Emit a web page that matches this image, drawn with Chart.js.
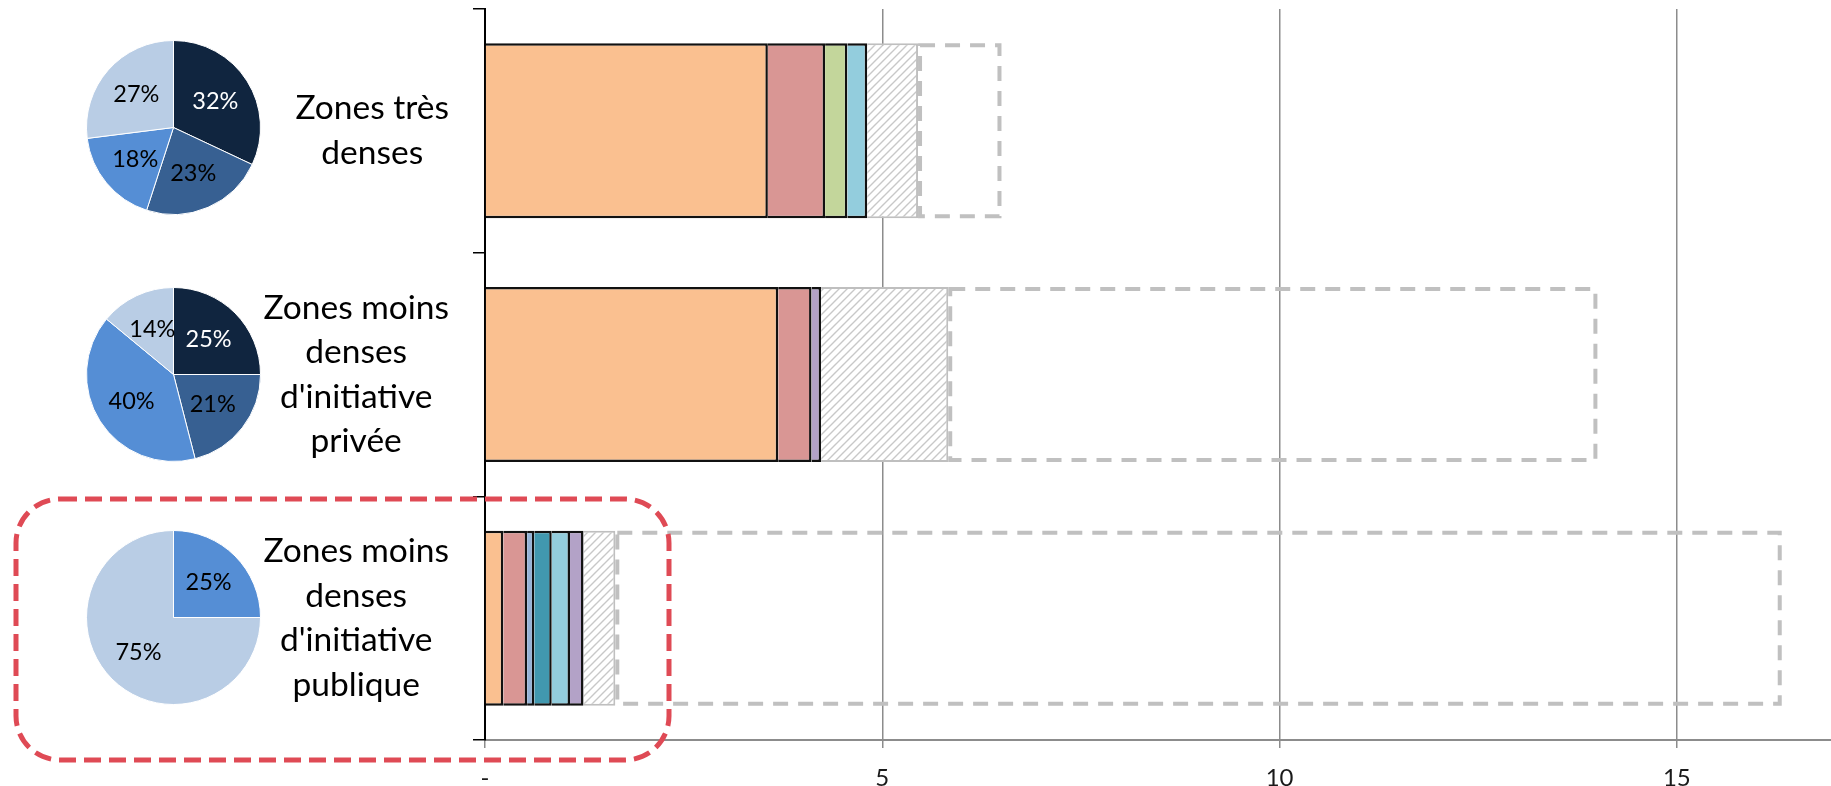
<!DOCTYPE html>
<html>
	<head>
		<title>Zones</title>
		<meta charset="utf-8"/>
		<script src="https://cdn.jsdelivr.net/npm/chart.js@4.4.1/dist/chart.umd.min.js"></script>
		<style>
			body { margin: 0; background: #ffffff; }
			#page { position: relative; width: 1831px; height: 786px; }
			#bar_box { position: absolute; left: 0; top: 0; width: 1831px; height: 786px; }
			.pie_box { position: absolute; width: 175px; height: 175px; left: 86px; }
		</style>
	</head>
	<body>
		<div id="page">
			<div id="bar_box"><canvas id="bar_chart"></canvas></div>
			<div class="pie_box" style="top: 40px;"><canvas id="pie_1"></canvas></div>
			<div class="pie_box" style="top: 287px;"><canvas id="pie_2"></canvas></div>
			<div class="pie_box" style="top: 530px;"><canvas id="pie_3"></canvas></div>
		</div>
		<script>
			// categories (one per bar / pie)
			const categories = [
				["Zones très", "denses"],
				["Zones moins", "denses", "d'initiative", "privée"],
				["Zones moins", "denses", "d'initiative", "publique"]
			];

			// stacked bar segments
			const orangeValues  = [3.56, 3.69, 0.23];
			const redValues     = [0.72, 0.42, 0.30];
			const greenValues   = [0.28, null, null];
			const steelValues   = [null, null, 0.09];
			const tealValues    = [null, null, 0.22];
			const cyanValues    = [0.25, null, 0.23];
			const purpleValues  = [null, 0.12, 0.17];
			const hatchedValues = [0.64, 1.60, 0.40];
			const totalValues   = [6.50, 14.00, 16.32];

			const xTicks = [0, 5, 10, 15];

			// pies (clockwise from top)
			const pieSlices = ["1", "2", "3", "4"];
			const pieTresDenses = [32, 23, 18, 27];
			const piePrivee     = [25, 21, 40, 14];
			const piePublique   = [0, 0, 25, 75];

			const remainderValues = totalValues.map((t, i) =>
				t - [orangeValues, redValues, greenValues, steelValues, tealValues, cyanValues, purpleValues, hatchedValues]
					.reduce((s, arr) => s + (arr[i] || 0), 0));

			const labelFont = "Lato";

			function makeHatch()
			{
				const c = document.createElement('canvas');
				c.width = 8;
				c.height = 8;
				const g = c.getContext('2d');
				g.fillStyle = '#ffffff';
				g.fillRect(0, 0, 8, 8);
				g.strokeStyle = '#c8c8c8';
				g.lineWidth = 1.4;
				g.beginPath();
				g.moveTo(0, 8); g.lineTo(8, 0);
				g.moveTo(-2, 2); g.lineTo(2, -2);
				g.moveTo(6, 10); g.lineTo(10, 6);
				g.stroke();
				return g.createPattern(c, 'repeat');
			}

			function segment(label, data, color)
			{
				return {
					label: label,
					data: data,
					backgroundColor: color,
					borderColor: '#111111',
					borderWidth: 2.5,
					borderSkipped: 'start'
				};
			}

			// dashed outline for the remainder + category texts + red frame
			const overlayPlugin = {
				id: 'overlay',
				afterDatasetsDraw(chart)
				{
					const ctx = chart.ctx;
					const meta = chart.getDatasetMeta(chart.data.datasets.length - 1);
					ctx.save();
					ctx.strokeStyle = '#c0c0c0';
					ctx.lineWidth = 4;
					ctx.setLineDash([15, 10]);
					meta.data.forEach(el =>
					{
						const p = el.getProps(['x', 'y', 'base', 'height'], true);
						ctx.strokeRect(p.base + 2, p.y - p.height / 2 + 2, p.x - p.base - 4, p.height - 4);
					});
					ctx.restore();
				},
				afterDraw(chart)
				{
					const ctx = chart.ctx;
					const yScale = chart.scales.y;
					ctx.save();
					ctx.fillStyle = '#000000';
					ctx.font = '33.5px ' + labelFont;
					ctx.textAlign = 'center';
					ctx.textBaseline = 'middle';
					categories.forEach((lines, i) =>
					{
						const cy = yScale.getPixelForValue(i);
						const w = Math.max(...lines.map(l => ctx.measureText(l).width));
						const cx = 449 - w / 2;
						const lh = 44.5;
						lines.forEach((l, j) =>
						{
							ctx.fillText(l, cx, cy + (j - (lines.length - 1) / 2) * lh);
						});
					});

					// highlight frame round the last group
					ctx.strokeStyle = '#df4a55';
					ctx.lineWidth = 5;
					ctx.setLineDash([17, 8]);
					ctx.beginPath();
					ctx.roundRect(16, 499, 653, 261, 44);
					ctx.stroke();
					ctx.restore();
				}
			};

			const barCtx = document.getElementById('bar_chart').getContext('2d');
			new Chart(barCtx,
			{
				type: 'bar',
				data:
				{
					labels: categories,
					datasets:
					[
						segment('orange', orangeValues, '#fac090'),
						segment('rouge', redValues, '#d99694'),
						segment('vert', greenValues, '#c3d69b'),
						segment('bleu clair', steelValues, '#95b3d7'),
						segment('bleu canard', tealValues, '#4198af'),
						segment('cyan', cyanValues, '#93cddd'),
						segment('violet', purpleValues, '#b3a2c7'),
						{
							label: 'hachuré',
							data: hatchedValues,
							backgroundColor: makeHatch(),
							borderColor: '#bfbfbf',
							borderWidth: 2,
							borderSkipped: 'start'
						},
						{
							label: 'reste',
							data: remainderValues,
							backgroundColor: 'rgba(0,0,0,0)',
							borderWidth: 0
						}
					]
				},
				options:
				{
					indexAxis: 'y',
					responsive: true,
					maintainAspectRatio: false,
					animation: false,
					layout: { padding: { top: 9, right: 0, left: 0, bottom: 0 } },
					datasets: { bar: { categoryPercentage: 1, barPercentage: 0.718 } },
					plugins: { legend: { display: false }, tooltip: { enabled: false } },
					scales:
					{
						x:
						{
							type: 'linear',
							stacked: true,
							min: 0,
							max: 16.94,
							afterBuildTicks: s => { s.ticks = xTicks.map(v => ({ value: v })); },
							ticks:
							{
								color: '#1a1a1a',
								font: { family: labelFont, size: 24 },
								padding: 16,
								callback: v => v === 0 ? '-' : v
							},
							grid:
							{
								color: c => (c.tick && c.tick.value === 0) ? 'rgba(0,0,0,0)' : '#8c8c8c',
								tickColor: '#8c8c8c',
								lineWidth: 1.5,
								tickLength: 8
							},
							border: { color: '#8c8c8c', width: 2 },
							afterFit: s => { s.height = 46; }
						},
						y:
						{
							type: 'category',
							stacked: true,
							ticks: { display: false },
							grid: { drawOnChartArea: false, color: '#000000', lineWidth: 1.5, tickLength: 12, offset: true },
							border: { color: '#000000', width: 2 },
							afterFit: s => { s.width = 485; }
						}
					}
				},
				plugins: [overlayPlugin]
			});

			// percent labels inside the pies
			const pieLabelPlugin = {
				id: 'pieLabels',
				afterDatasetsDraw(chart)
				{
					const ctx = chart.ctx;
					const values = chart.data.datasets[0].data;
					ctx.save();
					ctx.font = '23.5px ' + labelFont;
					ctx.textAlign = 'center';
					ctx.textBaseline = 'middle';
					chart.getDatasetMeta(0).data.forEach((arc, i) =>
					{
						if (!values[i]) return;
						const p = arc.getProps(['x', 'y', 'startAngle', 'endAngle', 'outerRadius'], true);
						const mid = (p.startAngle + p.endAngle) / 2;
						const r = p.outerRadius * 0.57;
						ctx.fillStyle = i === 0 ? '#ffffff' : '#000000';
						ctx.fillText(values[i] + '%', p.x + Math.cos(mid) * r, p.y + Math.sin(mid) * r);
					});
					ctx.restore();
				}
			};

			function makePie(id, values)
			{
				new Chart(document.getElementById(id).getContext('2d'),
				{
					type: 'pie',
					data:
					{
						labels: pieSlices,
						datasets: [{
							data: values,
							backgroundColor: ['#10253f', '#376092', '#558ed5', '#b9cde5'],
							borderColor: '#ffffff',
							borderWidth: 1
						}]
					},
					options:
					{
						responsive: true,
						maintainAspectRatio: false,
						animation: false,
						plugins: { legend: { display: false }, tooltip: { enabled: false } }
					},
					plugins: [pieLabelPlugin]
				});
			}

			makePie('pie_1', pieTresDenses);
			makePie('pie_2', piePrivee);
			makePie('pie_3', piePublique);
		</script>
	</body>
</html>
